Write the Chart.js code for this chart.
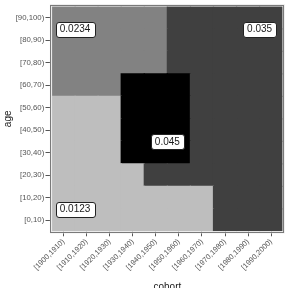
<!DOCTYPE html>
<html><head><meta charset="utf-8">
<script src="https://cdn.jsdelivr.net/npm/chart.js@4.4.1/dist/chart.umd.min.js"></script>
<style>html,body{margin:0;padding:0;background:#fff}#wrap{width:290px;height:288px}</style>
</head><body><div id="wrap"><canvas id="c" width="290" height="288"></canvas></div>
<script>
const cohorts = ['[1900,1910)','[1910,1920)','[1920,1930)','[1930,1940)','[1940,1950)','[1950,1960)','[1960,1970)','[1970,1980)','[1980,1990)','[1990,2000)'];
const ages = ['[0,10)','[10,20)','[20,30)','[30,40)','[40,50)','[50,60)','[60,70)','[70,80)','[80,90)','[90,100)'];
// rate per age band (rows, bottom to top), one value per cohort
const rates = [
  [0.0123,0.0123,0.0123,0.0123,0.0123,0.0123,0.0123,0.035,0.035,0.035],
  [0.0123,0.0123,0.0123,0.0123,0.0123,0.0123,0.0123,0.035,0.035,0.035],
  [0.0123,0.0123,0.0123,0.0123,0.035,0.035,0.035,0.035,0.035,0.035],
  [0.0123,0.0123,0.0123,0.045,0.045,0.045,0.035,0.035,0.035,0.035],
  [0.0123,0.0123,0.0123,0.045,0.045,0.045,0.035,0.035,0.035,0.035],
  [0.0123,0.0123,0.0123,0.045,0.045,0.045,0.035,0.035,0.035,0.035],
  [0.0234,0.0234,0.0234,0.045,0.045,0.045,0.035,0.035,0.035,0.035],
  [0.0234,0.0234,0.0234,0.0234,0.0234,0.035,0.035,0.035,0.035,0.035],
  [0.0234,0.0234,0.0234,0.0234,0.0234,0.035,0.035,0.035,0.035,0.035],
  [0.0234,0.0234,0.0234,0.0234,0.0234,0.035,0.035,0.035,0.035,0.035]
];
const labelText = ['0.0234','0.035','0.045','0.0123'];
const labelCohortPos = [0.5, 8.5, 4.5, 0.5];
const labelAgePos = [8.5, 8.5, 3.5, 0.5];

const FONT = 'Liberation Sans';
const rMin = 0.0123, rMax = 0.045;
function colorFor(v){
  const t = (v - rMin) / (rMax - rMin);
  const g = Math.round(190 * Math.pow(1 - t, 0.92));
  return 'rgb(' + g + ',' + g + ',' + g + ')';
}

const datasets = ages.map((a, r) => ({
  label: a,
  data: cohorts.map(() => 1),
  backgroundColor: rates[r].map(colorFor),
  borderWidth: 0,
  barPercentage: 1,
  categoryPercentage: 1,
  inflateAmount: 0.6
}));

const framePlugin = {
  id: 'frame',
  afterDraw(chart){
    const ctx = chart.ctx, ca = chart.chartArea;
    ctx.save();
    const L = Math.round(ca.left - 1.7) + 0.5, T = Math.round(ca.top - 1.7) + 0.5;
    const R = Math.round(ca.right + 1.7) - 0.5, B = Math.round(ca.bottom + 1.4) - 0.5;
    ctx.strokeStyle = '#ebebeb'; ctx.lineWidth = 2.2;
    ctx.strokeRect(ca.left - 1, ca.top - 1, ca.width + 2, ca.height + 2);
    ctx.strokeStyle = '#7a7a7a'; ctx.lineWidth = 1;
    ctx.strokeRect(L, T, R - L, B - T);
    // value labels
    const xs = chart.scales.x, ys = chart.scales.y;
    ctx.font = '10px "' + FONT + '"';
    ctx.textAlign = 'center'; ctx.textBaseline = 'middle';
    labelText.forEach((txt, i) => {
      const cx = xs.getPixelForValue(labelCohortPos[i]);
      const cy = ys.getPixelForValue(labelAgePos[i] + 0.5);
      const w = ctx.measureText(txt).width + 8, h = 14.5;
      ctx.beginPath();
      ctx.roundRect(Math.round(cx - w/2) + 0.5, Math.round(cy - h/2) + 0.5, Math.round(w), Math.round(h), 2.5);
      ctx.fillStyle = '#fff'; ctx.fill();
      ctx.strokeStyle = '#222'; ctx.lineWidth = 1; ctx.stroke();
      ctx.fillStyle = '#1a1a1a';
      ctx.fillText(txt, cx, cy + 0.5);
    });
    ctx.restore();
  }
};

new Chart(document.getElementById('c'), {
  type: 'bar',
  data: { labels: cohorts, datasets },
  options: {
    responsive: false,
    animation: false,
    devicePixelRatio: 1,
    layout: { padding: { top: 6.3, right: 7.3, left: 0, bottom: 0 } },
    plugins: { legend: { display: false }, tooltip: { enabled: false } },
    scales: {
      x: {
        stacked: true,
        offset: true,
        grid: { offset: false, drawOnChartArea: false, drawTicks: true, tickLength: 5, color: '#555', lineWidth: 1 },
        border: { display: false },
        ticks: { minRotation: 45, maxRotation: 45, autoSkip: false, padding: 1, color: '#555', font: { family: FONT, size: 7.5 } },
        title: { display: true, text: 'cohort', color: '#1a1a1a', font: { family: FONT, size: 10 }, padding: { top: 0, bottom: -5 } },
        afterFit: s => { s.height = 56.7; }
      },
      y: {
        stacked: true,
        min: 0, max: 10,
        afterBuildTicks: s => { s.ticks = ages.map((_, i) => ({ value: i + 0.5 })); },
        grid: { drawOnChartArea: false, drawTicks: true, tickLength: 6.5, color: '#555', lineWidth: 1 },
        border: { display: false },
        ticks: { padding: 1.2, color: '#555', font: { family: FONT, size: 7.8 }, callback: v => ages[Math.floor(v)] },
        title: { display: true, text: 'age', color: '#1a1a1a', font: { family: FONT, size: 10 }, padding: { top: 2, bottom: 0 } },
        afterFit: s => { s.width = 52; }
      }
    }
  },
  plugins: [framePlugin]
});
</script>
</body></html>
